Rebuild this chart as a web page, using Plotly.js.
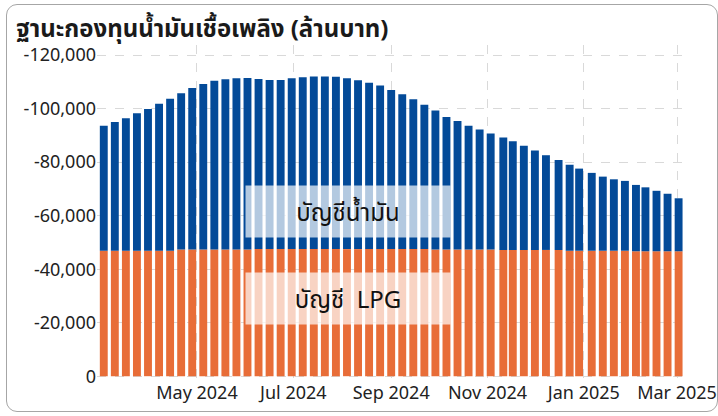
<!DOCTYPE html>
<html>
<head>
<meta charset="utf-8">
<script src="https://cdn.plot.ly/plotly-3.0.1.min.js"></script>
<style>
  html, body { margin: 0; padding: 0; background: #ffffff; }
  #wrap { position: relative; width: 718px; height: 416px; }
  #chart { width: 718px; height: 416px; }
  #frame { position: absolute; left: 6px; top: 4px; width: 712px; height: 408px;
           border: 1.5px solid #a6a6a6; border-radius: 11px; pointer-events: none; box-sizing: border-box; }
</style>
</head>
<body>
<div id="wrap">
  <div id="chart"></div>
  <div id="frame"></div>
</div>
<script>
// ---- data (million baht; negative = deficit) ----
const dates = [
  '2024-03-03','2024-03-10','2024-03-17','2024-03-24','2024-03-31','2024-04-07','2024-04-14',
  '2024-04-21','2024-04-28','2024-05-05','2024-05-12','2024-05-19','2024-05-26','2024-06-02',
  '2024-06-09','2024-06-16','2024-06-23','2024-06-30','2024-07-07','2024-07-14','2024-07-21',
  '2024-07-28','2024-08-04','2024-08-11','2024-08-18','2024-08-25','2024-09-01','2024-09-08',
  '2024-09-15','2024-09-22','2024-09-29','2024-10-06','2024-10-13','2024-10-20','2024-10-27',
  '2024-11-03','2024-11-11','2024-11-17','2024-11-24','2024-12-01','2024-12-08','2024-12-16',
  '2024-12-23','2024-12-29','2025-01-06','2025-01-13','2025-01-20','2025-01-27','2025-02-03',
  '2025-02-09','2025-02-16','2025-02-23','2025-03-02'
];
const lpgAccount = [
  -46900,-46900,-46900,-46900,-46900,-46900,-46900,
  -47400,-47400,-47400,-47400,-47400,-47400,-47400,
  -47500,-47500,-47500,-47500,-47500,-47500,-47500,
  -47500,-47500,-47500,-47500,-47500,-47500,-47500,
  -47500,-47500,-47400,-47400,-47400,-47400,-47400,
  -47400,-47200,-47200,-47200,-47200,-47200,-47200,
  -46900,-46900,-46900,-46900,-46900,-46900,-46700,
  -46700,-46700,-46700,-46700
];
const oilAccount = [
  -46700,-48100,-49500,-51400,-53000,-54900,-56800,
  -58400,-60300,-61800,-63000,-63600,-64000,-64100,
  -63600,-63200,-63200,-63900,-64200,-64500,-64500,
  -64400,-63900,-63100,-62200,-61200,-59500,-57900,
  -56000,-54000,-51900,-49500,-48000,-46200,-44800,
  -43300,-42000,-40600,-38900,-37200,-35400,-33600,
  -32100,-30700,-29100,-27700,-26700,-26100,-24800,
  -23900,-22600,-21500,-19800
];
const seriesNames = ['บัญชี  LPG', 'บัญชีน้ำมัน'];
const xTickVals = ['2024-05-01', '2024-07-01', '2024-09-01', '2024-11-01', '2025-01-01', '2025-03-01'];
const xTickText = ['May 2024', 'Jul 2024', 'Sep 2024', 'Nov 2024', 'Jan 2025', 'Mar 2025'];
const yTickVals = [0, -20000, -40000, -60000, -80000, -100000, -120000];
const yTickText = ['0', '-20,000', '-40,000', '-60,000', '-80,000', '-100,000', '-120,000'];
const chartTitle = 'ฐานะกองทุนน้ำมันเชื้อเพลิง (ล้านบาท)';

// ---- chart ----
const DAY = 86400000;
const barWidth = dates.map(() => 5 * DAY);
const FONT = "'Segoe UI', 'Noto Sans', 'Noto Sans Thai', Tahoma, sans-serif";

const traces = [
  { type: 'bar', x: dates, y: lpgAccount, name: seriesNames[0], width: barWidth,
    marker: { color: '#E86D38', line: { width: 0 } }, hoverinfo: 'x+y' },
  { type: 'bar', x: dates, y: oilAccount, name: seriesNames[1], width: barWidth,
    marker: { color: '#034A98', line: { width: 0 } }, hoverinfo: 'x+y' }
];

const layout = {
  width: 718, height: 416,
  barmode: 'relative',
  showlegend: false,
  paper_bgcolor: '#ffffff', plot_bgcolor: '#ffffff',
  margin: { l: 97, r: 34, t: 45, b: 36, pad: 0 },
  font: { family: FONT, color: '#222222', size: 18 },
  title: { text: chartTitle, font: { family: FONT, size: 24, color: '#1a1a1a', weight: 'bold' },
           xref: 'container', yref: 'container', x: 16/718, xanchor: 'left', y: 1 - 29/416, yanchor: 'middle' },
  xaxis: {
    type: 'date',
    range: ['2024-02-27 17:00', '2025-03-05 10:00'],
    tickvals: xTickVals, ticktext: xTickText,
    showgrid: true, gridcolor: '#d9d9d9', griddash: 'dash', gridwidth: 1,
    ticks: '', showline: false, zeroline: false,
    tickfont: { family: FONT, size: 18, color: '#222222' }
  },
  yaxis: {
    range: [1420, -123800],
    tickvals: yTickVals, ticktext: yTickText,
    showgrid: true, gridcolor: '#d9d9d9', griddash: 'dash', gridwidth: 1,
    ticks: '', showline: false, zeroline: false,
    tickfont: { family: FONT, size: 18, color: '#222222' }
  },
  annotations: [
    { text: seriesNames[1], xref: 'paper', yref: 'paper', x: (348 - 97) / 587, y: (380 - 211) / 335,
      xanchor: 'center', yanchor: 'middle', showarrow: false, width: 204, height: 51, borderpad: 0,
      bgcolor: 'rgba(255,255,255,0.7)', font: { family: FONT, size: 24, color: '#111111' } },
    { text: seriesNames[0], xref: 'paper', yref: 'paper', x: (348 - 97) / 587, y: (380 - 298) / 335,
      xanchor: 'center', yanchor: 'middle', showarrow: false, width: 204, height: 51, borderpad: 0,
      bgcolor: 'rgba(255,255,255,0.7)', font: { family: FONT, size: 24, color: '#111111' } }
  ]
};

Plotly.newPlot('chart', traces, layout, { displayModeBar: false, staticPlot: true });
</script>
</body>
</html>
